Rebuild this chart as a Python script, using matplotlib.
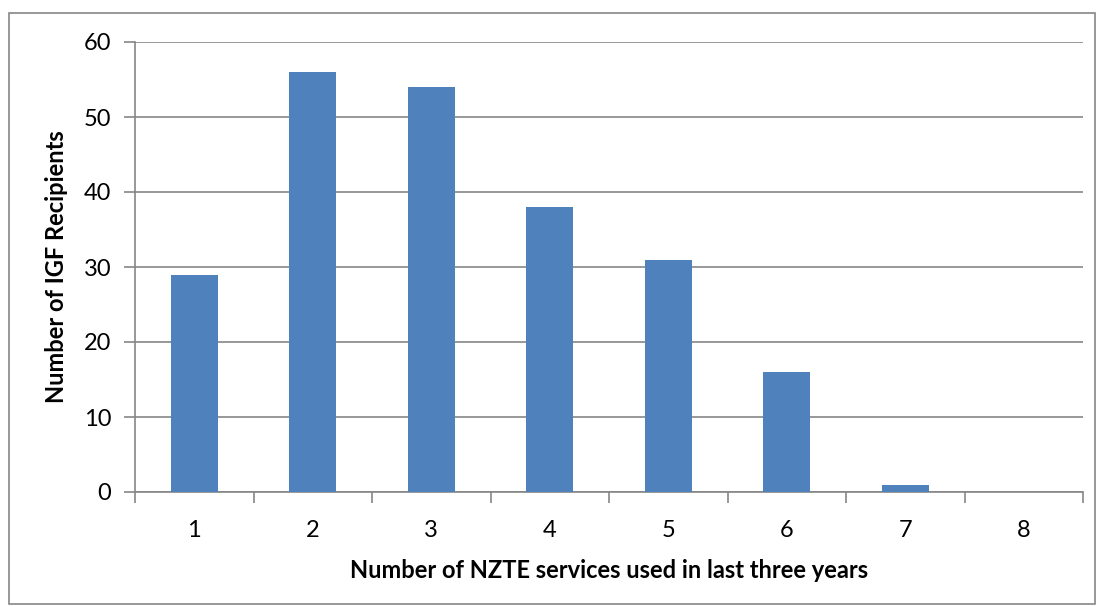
import matplotlib
matplotlib.use("Agg")
import matplotlib.pyplot as plt
from matplotlib.patches import Rectangle

plt.rcParams['font.family'] = ['Lato', 'DejaVu Sans']

# data
services = [1, 2, 3, 4, 5, 6, 7, 8]
recipients = [29, 56, 54, 38, 31, 16, 1, 0]

fig = plt.figure(figsize=(10.98, 6.06), dpi=100)
W, H = 1098, 606
ax = fig.add_axes([135 / W, 1 - 492 / H, (1083 - 135) / W, (492 - 42) / H])

# outer chart border
fig.patches.append(Rectangle((9 / W, 1 - 604 / H), (1095 - 9) / W, (604 - 13) / H,
                             transform=fig.transFigure, fill=False,
                             edgecolor='#868686', linewidth=1.2))

gray = '#868686'
ax.bar(range(len(services)), recipients, width=0.4, color='#4F81BD', zorder=3)

ax.set_xlim(-0.5, len(services) - 0.5)
ax.set_ylim(0, 60)
ax.set_yticks(range(0, 61, 10))
ax.set_xticks(range(len(services)))
ax.set_xticklabels([str(s) for s in services])
ax.set_xticks([i - 0.5 for i in range(len(services) + 1)], minor=True)
ax.tick_params(axis='x', which='major', length=0, labelsize=17, pad=20)
ax.tick_params(axis='x', which='minor', length=8, color=gray, width=1.2)
ax.tick_params(axis='y', length=8, color=gray, width=1.2, labelsize=17, pad=9)

ax.grid(axis='y', color=gray, linewidth=1.2, zorder=0)
for side in ['top', 'right']:
    ax.spines[side].set_visible(False)
for side in ['left', 'bottom']:
    ax.spines[side].set_color(gray)
    ax.spines[side].set_linewidth(1.2)

ax.set_xlabel('Number of NZTE services used in last three years', fontsize=17,
              fontweight='bold', labelpad=13)
ax.set_ylabel('Number of IGF Recipients', fontsize=17, fontweight='bold', labelpad=11)

fig.savefig('out.png', dpi=100)
